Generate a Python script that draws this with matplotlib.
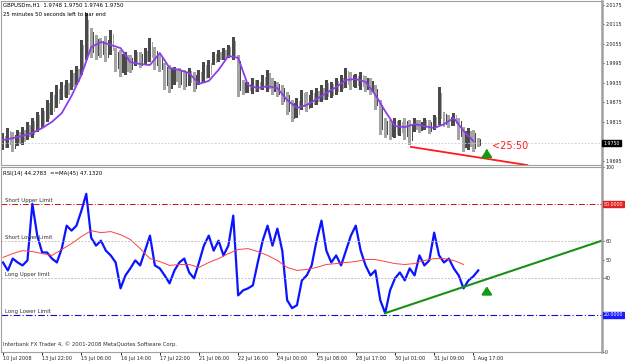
import numpy as np
import matplotlib.pyplot as plt

# GBPUSD H1, one sample every 4 hourly bars
bar_high = [1.9781, 1.9796, 1.9784, 1.9790, 1.9799, 1.9815, 1.9827, 1.9845, 1.9858, 1.9882,
            1.9907, 1.9928, 1.9938, 1.9944, 1.9975, 1.9987, 2.0067, 2.0150, 2.0104, 2.0082,
            2.0073, 2.0079, 2.0098, 2.0042, 2.0036, 2.0030, 2.0021, 2.0036, 2.0030, 2.0042,
            2.0073, 2.0045, 2.0021, 1.9996, 1.9990, 1.9984, 1.9981, 1.9975, 1.9981, 1.9968,
            1.9975, 1.9999, 2.0005, 2.0030, 2.0036, 2.0042, 2.0052, 2.0076, 2.0021, 1.9944,
            1.9938, 1.9950, 1.9944, 1.9959, 1.9975, 1.9950, 1.9938, 1.9928, 1.9907, 1.9882,
            1.9888, 1.9913, 1.9907, 1.9913, 1.9919, 1.9928, 1.9944, 1.9938, 1.9950, 1.9959,
            1.9981, 1.9968, 1.9962, 1.9968, 1.9956, 1.9950, 1.9928, 1.9882, 1.9827, 1.9821,
            1.9827, 1.9821, 1.9827, 1.9821, 1.9827, 1.9821, 1.9827, 1.9821, 1.9836, 1.9922,
            1.9845, 1.9836, 1.9842, 1.9827, 1.9799, 1.9796, 1.9790, 1.9765]
bar_low = [1.9728, 1.9735, 1.9722, 1.9741, 1.9744, 1.9759, 1.9765, 1.9784, 1.9796, 1.9815,
           1.9836, 1.9858, 1.9882, 1.9888, 1.9913, 1.9928, 1.9959, 2.0005, 2.0012, 2.0005,
           2.0012, 1.9999, 2.0021, 1.9968, 1.9953, 1.9959, 1.9965, 1.9987, 1.9981, 1.9990,
           1.9999, 1.9975, 1.9968, 1.9913, 1.9904, 1.9928, 1.9919, 1.9913, 1.9925, 1.9907,
           1.9928, 1.9938, 1.9950, 1.9990, 1.9999, 2.0005, 2.0012, 2.0005, 1.9892, 1.9898,
           1.9904, 1.9901, 1.9907, 1.9913, 1.9907, 1.9898, 1.9892, 1.9867, 1.9836, 1.9815,
           1.9827, 1.9852, 1.9845, 1.9858, 1.9867, 1.9876, 1.9882, 1.9888, 1.9898, 1.9907,
           1.9919, 1.9913, 1.9919, 1.9913, 1.9907, 1.9898, 1.9852, 1.9775, 1.9765, 1.9759,
           1.9765, 1.9772, 1.9759, 1.9744, 1.9784, 1.9781, 1.9790, 1.9778, 1.9790, 1.9805,
           1.9799, 1.9796, 1.9802, 1.9759, 1.9722, 1.9728, 1.9722, 1.9738]

# purple moving average, one value every 8 bars
ma_price = [1.9759, 1.9765, 1.9772, 1.9781, 1.9796, 1.9815, 1.9842, 1.9895, 1.9959, 2.0045,
            2.0061, 2.0052, 2.0042, 1.9999, 1.9993, 1.9990, 2.0027, 1.9981, 1.9975, 1.9965,
            1.9932, 1.9941, 1.9975, 2.0018, 2.0012, 1.9928, 1.9919, 1.9925, 1.9919, 1.9882,
            1.9858, 1.9867, 1.9885, 1.9904, 1.9922, 1.9944, 1.9947, 1.9938, 1.9898, 1.9848,
            1.9802, 1.9799, 1.9808, 1.9802, 1.9796, 1.9808, 1.9827, 1.9787, 1.9756]

# RSI(14), one sample every 4 bars
rsi = [48.4, 44.1, 50.5, 48.4, 46.8, 49.5, 80.1, 62.9, 53.8, 53.8,
       50.5, 48.4, 55.9, 68.3, 65.6, 68.3, 76.3, 85.5, 61.8, 57.5,
       60.2, 54.8, 52.2, 48.4, 34.4, 41.4, 45.2, 49.5, 46.8, 54.8,
       62.9, 46.8, 45.2, 41.4, 37.1, 44.1, 48.4, 50.5, 43.0, 39.8,
       48.4, 57.5, 62.9, 54.8, 60.2, 52.2, 57.5, 73.7, 30.6, 33.3,
       34.4, 36.0, 48.4, 60.2, 68.3, 57.5, 66.7, 54.8, 28.0, 23.7,
       25.3, 38.7, 41.4, 46.8, 60.2, 71.0, 54.8, 48.4, 52.2, 46.8,
       54.8, 62.9, 68.3, 54.8, 46.8, 41.4, 44.1, 28.0, 21.0, 33.3,
       39.8, 43.0, 38.7, 45.2, 41.4, 52.2, 46.8, 49.5, 64.5, 52.2,
       48.4, 50.5, 45.2, 41.4, 34.4, 38.7, 40.9, 44.1]

# MA(45) of the RSI, one value every 8 bars
rsi_ma = [51.1, 53.2, 54.8, 54.3, 53.2, 52.2, 55.4, 58.6, 62.4, 65.6,
          64.5, 65.1, 63.4, 60.8, 55.9, 50.5, 48.9, 46.8, 47.3, 47.3,
          45.7, 48.4, 50.5, 53.2, 55.4, 55.9, 54.3, 52.2, 49.5, 45.7,
          44.1, 44.6, 45.7, 47.3, 47.8, 48.4, 48.9, 50.0, 50.0, 48.9,
          47.8, 47.3, 47.8, 49.5, 50.5, 50.5, 49.5, 47.3]

price_ticks = [2.0175, 2.0115, 2.0055, 1.9995, 1.9935, 1.9875, 1.9815, 1.9695]
rsi_ticks = [100, 60, 50, 40, 0]
date_labels = ['10 Jul 2008', '13 Jul 22:00', '15 Jul 06:00', '16 Jul 14:00', '17 Jul 22:00',
               '21 Jul 06:00', '22 Jul 16:00', '24 Jul 00:00', '25 Jul 08:00', '28 Jul 17:00',
               '30 Jul 01:00', '31 Jul 09:00', '1 Aug 17:00']
last_price = 1.9750

# drawn objects (bar index, value)
price_trend = [(333, 1.9738), (428, 1.9682)]
rsi_trend = [(312, 21.0), (489, 60.2)]
signal_bar = 395

W, H = 625, 363
fig = plt.figure(figsize=(W / 100, H / 100), dpi=100)
plt.rcParams['font.family'] = 'DejaVu Sans'

def box(top, bottom, left=1, right=602):
    return [left / W, 1 - bottom / H, (right - left) / W, (bottom - top) / H]

ax1 = fig.add_axes(box(1, 165))
ax2 = fig.add_axes(box(167, 352))

xb = np.arange(len(bar_high)) * 4
hi = np.array(bar_high)
lo = np.array(bar_low)
mid = (hi + lo) / 2
up = np.r_[True, mid[1:] >= mid[:-1]]
cols = np.where(up, '#4a4a4a', '#a4a4a4')
ax1.bar(xb, hi - lo, bottom=lo, width=2.4, color=cols, linewidth=0)
ax1.bar(xb + 2, (hi - lo) * 0.7, bottom=lo + (hi - lo) * 0.15, width=1.0,
        color=np.where(up, '#a4a4a4', '#4a4a4a'), linewidth=0)
ax1.plot(np.arange(len(ma_price)) * 8, ma_price, color='#8b3ee6', lw=1.3)
ax1.axhline(last_price, color='#c8c8c8', lw=0.6, ls=(0, (2, 2)))
ax1.plot(*zip(*price_trend), color='#ff1a1a', lw=1.3)
ax1.annotate('', xy=(signal_bar, 1.9740), xytext=(signal_bar, 1.9716),
             arrowprops=dict(arrowstyle='-|>,head_width=0.3,head_length=0.45', color='#129a12', lw=1.6))
ax1.text(signal_bar + 4, 1.9742, '<25:50', color='#ff2020', fontsize=7, va='center')
ax1.set_ylim(1.96823, 2.0187)

xr = np.arange(len(rsi)) * 4
ax2.plot(xr, rsi, color='#0a14ff', lw=1.6)
ax2.plot(np.arange(len(rsi_ma)) * 8, rsi_ma, color='#ff4040', lw=0.7)
ax2.axhline(80, color='#d01010', lw=0.7, ls=(0, (6, 2, 1, 2)))
ax2.axhline(20, color='#1010c8', lw=0.8, ls=(0, (6, 2, 1, 2)))
for lvl in (60, 40):
    ax2.axhline(lvl, color='#b0b0b0', lw=0.6, ls=(0, (2, 2)))
ax2.plot(*zip(*rsi_trend), color='#189018', lw=1.5)
ax2.annotate('', xy=(signal_bar, 37), xytext=(signal_bar, 31),
             arrowprops=dict(arrowstyle='-|>,head_width=0.3,head_length=0.45', color='#129a12', lw=1.6))
ax2.set_ylim(0, 100)

fs = 3.9
for lvl, name in [(80, 'Short Upper Limit'), (60, 'Short Lower Limit'),
                  (40, 'Long Upper limit'), (20, 'Long Lower Limit')]:
    ax2.text(2, lvl + 0.8, name, fontsize=fs, color='#303030', va='bottom')
ax2.text(0, 2.5, 'Interbank FX Trader 4, \u00a9 2001-2008 MetaQuotes Software Corp.',
         fontsize=fs, color='#303030', va='bottom')

fig.text(3 / W, 1 - 5 / H, 'GBPUSDm,H1  1.9748 1.9750 1.9746 1.9750', fontsize=fs, va='center')
fig.text(3 / W, 1 - 14 / H, '25 minutes 50 seconds left to bar end', fontsize=fs, va='center')
fig.text(3 / W, 1 - 173 / H, 'RSI(14) 44.2783  ==MA(45) 47.1320', fontsize=fs, va='center')

rfs = 3.4
for ax in (ax1, ax2):
    ax.set_xlim(-1.6, 489)
    ax.yaxis.tick_right()
    ax.tick_params(axis='y', length=1.5, width=0.6, pad=0.8, labelsize=rfs, colors='#202020')
    for s in ax.spines.values():
        s.set_color('#a0a0a0')
        s.set_linewidth(0.8)
    ax.spines['right'].set_linewidth(1.8)

ax1.set_yticks(price_ticks)
ax1.set_yticklabels(['%.4f' % t for t in price_ticks])
ax1.set_xticks([])
ax2.set_yticks(rsi_ticks)
ax2.set_yticklabels([str(t) for t in rsi_ticks])

ax2.set_xticks(np.arange(len(date_labels)) * 32)
ax2.set_xticklabels(date_labels, fontsize=3.6, ha='left', color='#202020')
ax2.tick_params(axis='x', length=2, width=0.6, pad=1)

# value boxes on the right scale
tr1 = ax1.get_yaxis_transform()
ax1.text(1.002, last_price, '1.9750', transform=tr1, fontsize=rfs, color='white', va='center',
         bbox=dict(boxstyle='square,pad=0.2', fc='black', ec='black'))
tr2 = ax2.get_yaxis_transform()
ax2.text(1.003, 80, '80.0000', transform=tr2, fontsize=rfs, color='white', va='center',
         bbox=dict(boxstyle='square,pad=0.2', fc='#e02020', ec='#e02020'))
ax2.text(1.003, 20, '20.0000', transform=tr2, fontsize=rfs, color='white', va='center',
         bbox=dict(boxstyle='square,pad=0.2', fc='#1a1aff', ec='#1a1aff'))

fig.savefig('out.png', dpi=100)
